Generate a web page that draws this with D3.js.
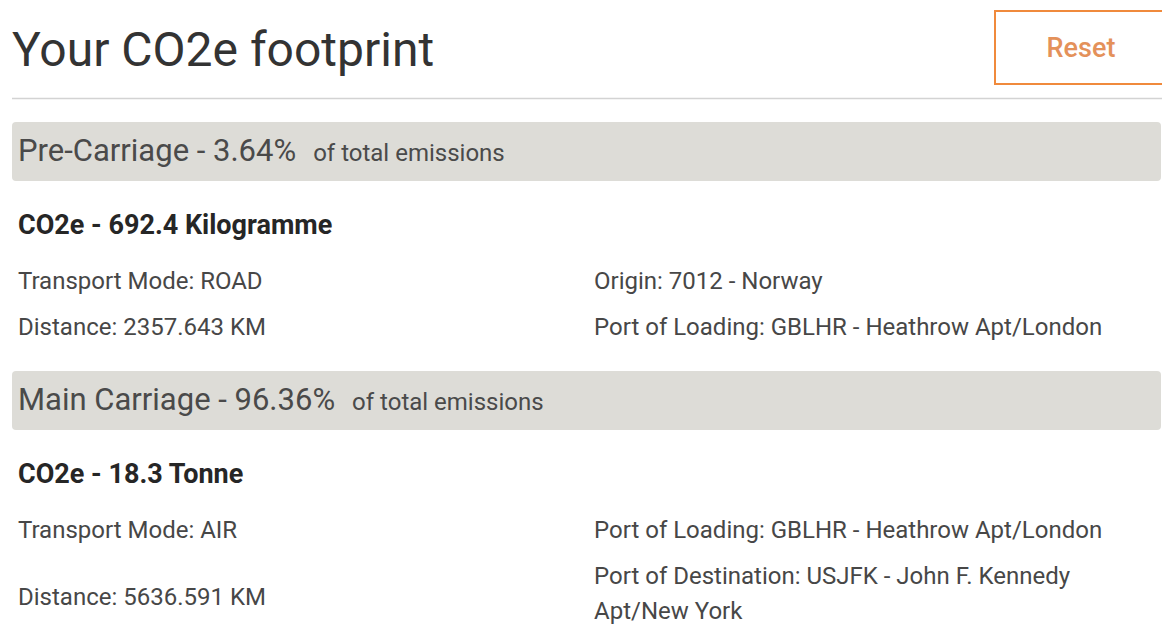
<!DOCTYPE html>
<html><head><meta charset="utf-8">
<script src="https://cdn.jsdelivr.net/npm/d3@7"></script>
<style>html,body{margin:0;padding:0;background:#fff;overflow:hidden}</style>
</head><body><svg id="c" width="1162" height="626"></svg>
<script>
// ---- data ----
const pageTitle = "Your CO2e footprint";
const buttonLabel = "Reset";
const legs = ["Pre-Carriage", "Main Carriage"];
const shares = [3.64, 96.36];
const shareSuffix = "of total emissions";
const co2Amounts = [692.4, 18.3];
const co2Units = ["Kilogramme", "Tonne"];
const modes = ["ROAD", "AIR"];
const distances = [2357.643, 5636.591];
const distanceUnit = "KM";
const rightFirst = ["Origin: 7012 - Norway", "Port of Loading: GBLHR - Heathrow Apt/London"];
const rightSecond = ["Port of Loading: GBLHR - Heathrow Apt/London", "Port of Destination: USJFK - John F. Kennedy Apt/New York"];

// ---- layout ----
const W = 1162, H = 626;
const svg = d3.select("#c");
const font = "Roboto, 'Noto Sans', sans-serif";
const left = 12, textX = 18, colX = 594, colMax = 530, lineH = 35;

const y = d3.scalePoint().domain(legs).range([122, 371]);

// title
svg.append("text").attr("x", left).attr("y", 66)
  .attr("font-family", font).attr("font-size", 48).attr("fill", "#333")
  .text(pageTitle);

// reset button
svg.append("rect").attr("x", 995).attr("y", 11).attr("width", 180).attr("height", 73)
  .attr("fill", "#fff").attr("stroke", "#f08a3c").attr("stroke-width", 2);
svg.append("text").attr("x", 1081).attr("y", 57).attr("text-anchor", "middle")
  .attr("font-family", font).attr("font-size", 27).attr("font-weight", 500).attr("fill", "#e4915a")
  .text(buttonLabel);

// divider
svg.append("line").attr("x1", left).attr("x2", W).attr("y1", 98.5).attr("y2", 98.5)
  .attr("stroke", "#d3d3d3").attr("stroke-width", 1.5);

const fmtPct = d3.format(".2f");

function wrap(str, size) {
  const words = str.split(" ");
  const tmp = svg.append("text").attr("font-family", font).attr("font-size", size);
  const lines = [];
  let cur = "";
  words.forEach(w => {
    const test = cur ? cur + " " + w : w;
    tmp.text(test);
    if (tmp.node().getComputedTextLength() > colMax && cur) { lines.push(cur); cur = w; }
    else cur = test;
  });
  lines.push(cur);
  tmp.remove();
  return lines;
}

const sec = svg.selectAll("g.sec").data(legs).join("g").attr("class", "sec")
  .attr("transform", d => `translate(0,${y(d)})`);

sec.append("rect").attr("x", left).attr("y", 0).attr("width", W - left - 1).attr("height", 59)
  .attr("rx", 4).attr("fill", "#dddcd7");

sec.each(function(d, i) {
  const g = d3.select(this);
  const head = g.append("text").attr("x", textX).attr("y", 39).attr("font-family", font).attr("fill", "#4a4a4a");
  head.append("tspan").attr("font-size", 31).text(`${d} - ${fmtPct(shares[i])}%`);
  head.append("tspan").attr("font-size", 24).attr("dx", 17).text(shareSuffix);

  g.append("text").attr("x", textX).attr("y", 112).attr("font-family", font)
    .attr("font-size", 27).attr("font-weight", 700).attr("fill", "#262626")
    .text(`CO2e - ${co2Amounts[i]} ${co2Units[i]}`);

  const body = (x, yy, t) => g.append("text").attr("x", x).attr("y", yy)
    .attr("font-family", font).attr("font-size", 24).attr("fill", "#474747").text(t);

  body(textX, 167, `Transport Mode: ${modes[i]}`);
  body(colX, 167, rightFirst[i]);

  const lines = wrap(rightSecond[i], 24);
  lines.forEach((l, k) => body(colX, 213 + k * lineH, l));
  body(textX, 213 + (lines.length - 1) * (lineH / 2 + 3), `Distance: ${distances[i]} ${distanceUnit}`);
});
</script></body></html>
